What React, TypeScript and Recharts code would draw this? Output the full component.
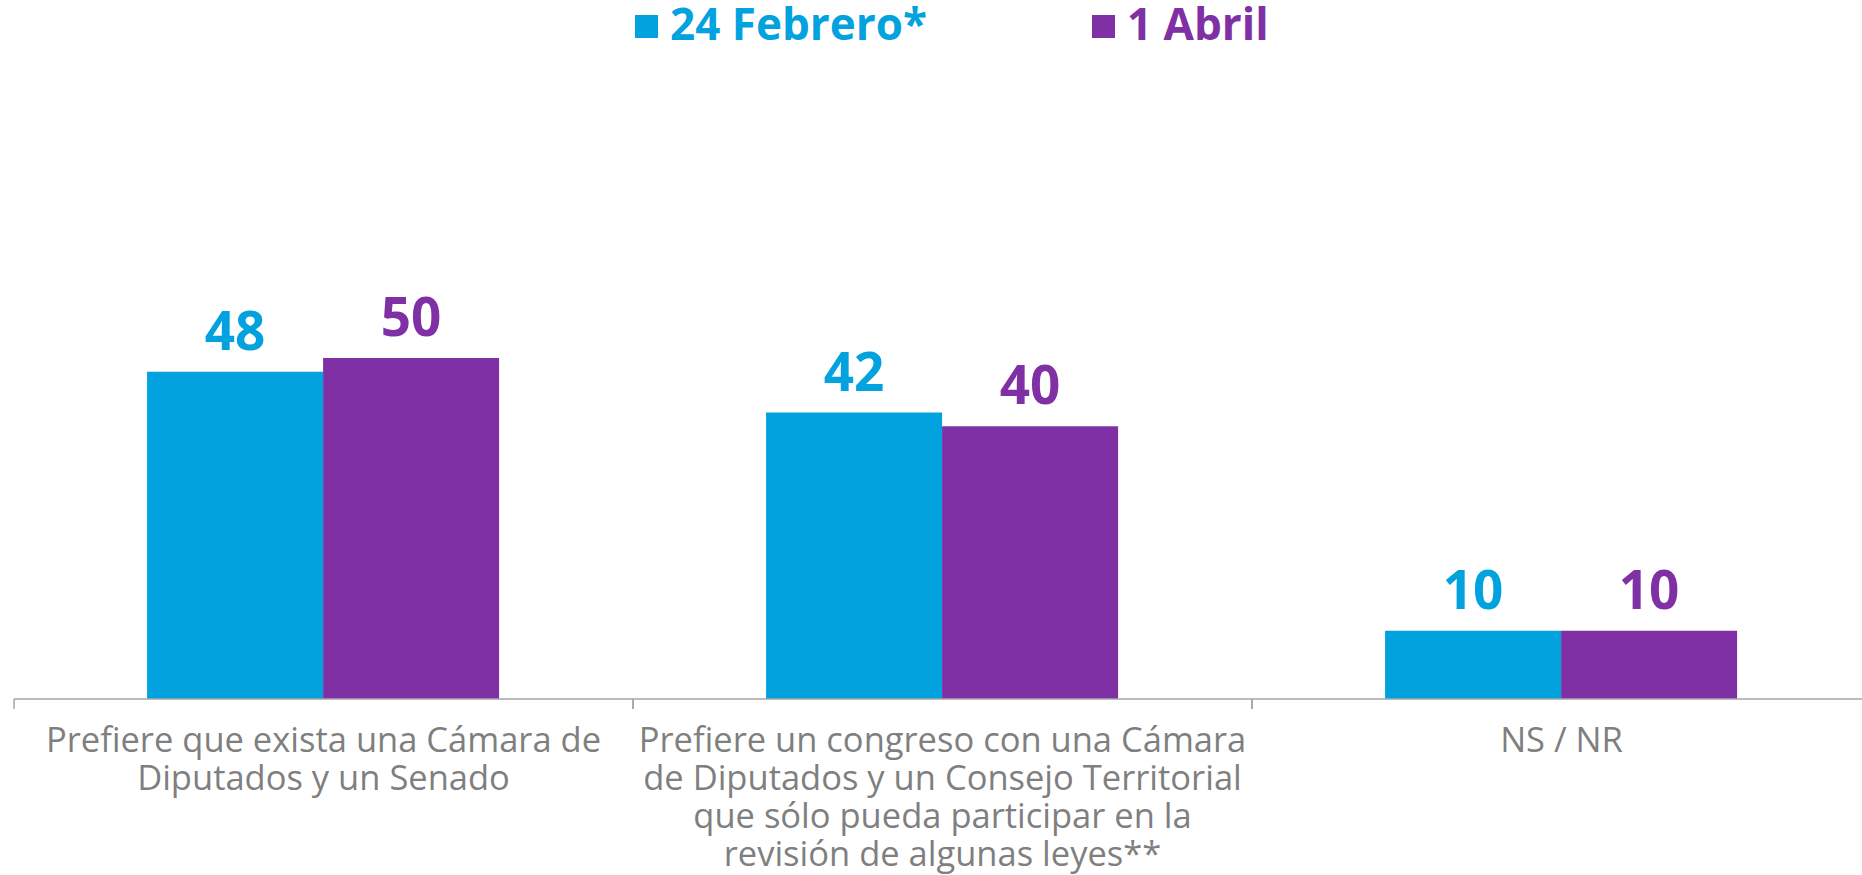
import { BarChart, Bar, XAxis, YAxis, LabelList } from "recharts";

const categories = [
  "Prefiere que exista una Cámara de\nDiputados y un Senado",
  "Prefiere un congreso con una Cámara\nde Diputados y un Consejo Territorial\nque sólo pueda participar en la\nrevisión de algunas leyes**",
  "NS / NR",
];
const febrero = [48, 42, 10];
const abril = [50, 40, 10];
const seriesNames = ["24 Febrero*", "1 Abril"];

const CYAN = "#02A2DF";
const PURPLE = "#7F30A5";
const FONT = "'Open Sans', sans-serif";

const data = categories.map((name, i) => ({
  name,
  febrero: febrero[i],
  abril: abril[i],
}));

function CategoryTick(props: any) {
  const { x, y, payload } = props;
  const lines = String(payload.value).split("\n");
  const half = payload.offset ?? 0;
  return (
    <g>
      <line x1={x - half} x2={x - half} y1={y} y2={y + 10} stroke="#A6A6A6" strokeWidth={1.5} />
      <line x1={x + half} x2={x + half} y1={y} y2={y + 10} stroke="#A6A6A6" strokeWidth={1.5} />
      {lines.map((l, i) => (
        <text
          key={i}
          x={x}
          y={y + 53 + i * 38}
          textAnchor="middle"
          fill="#7F7F7F"
          fontFamily={FONT}
          fontSize={34.5}
        >
          {l}
        </text>
      ))}
    </g>
  );
}

function LegendItem({ color, label, left }: { color: string; label: string; left: number }) {
  return (
    <div
      style={{
        position: "absolute",
        left,
        top: 1,
        display: "flex",
        alignItems: "flex-start",
        color,
        fontFamily: FONT,
        fontWeight: 700,
        fontSize: 44,
        lineHeight: "44px",
        whiteSpace: "nowrap",
      }}
    >
      <span
        style={{ width: 23, height: 23, marginTop: 14, background: color, display: "inline-block", marginRight: 12 }}
      />
      {label}
    </div>
  );
}

export default function App() {
  return (
    <div
      style={{
        position: "absolute",
        left: 0,
        top: 0,
        width: 1862,
        height: 875,
        overflow: "hidden",
        background: "#fff",
      }}
    >
      <BarChart
        width={1871}
        height={875}
        data={data}
        margin={{ top: 17, right: 0, bottom: 0, left: 14 }}
        barGap={0}
        barCategoryGap="21.5%"
      >
        <XAxis
          dataKey="name"
          height={176}
          interval={0}
          tickSize={0}
          tickMargin={0}
          tickLine={false}
          axisLine={{ stroke: "#A6A6A6", strokeWidth: 1.5 }}
          tick={<CategoryTick />}
        />
        <YAxis hide domain={[0, 100]} />
        <Bar dataKey="febrero" name={seriesNames[0]} fill={CYAN} isAnimationActive={false}>
          <LabelList
            dataKey="febrero"
            position="top"
            offset={22}
            fill={CYAN}
            fontSize={53}
            fontWeight={700}
            fontFamily={FONT}
          />
        </Bar>
        <Bar dataKey="abril" name={seriesNames[1]} fill={PURPLE} isAnimationActive={false}>
          <LabelList
            dataKey="abril"
            position="top"
            offset={22}
            fill={PURPLE}
            fontSize={53}
            fontWeight={700}
            fontFamily={FONT}
          />
        </Bar>
      </BarChart>
      <LegendItem color={CYAN} label={seriesNames[0]} left={635} />
      <LegendItem color={PURPLE} label={seriesNames[1]} left={1092} />
    </div>
  );
}
